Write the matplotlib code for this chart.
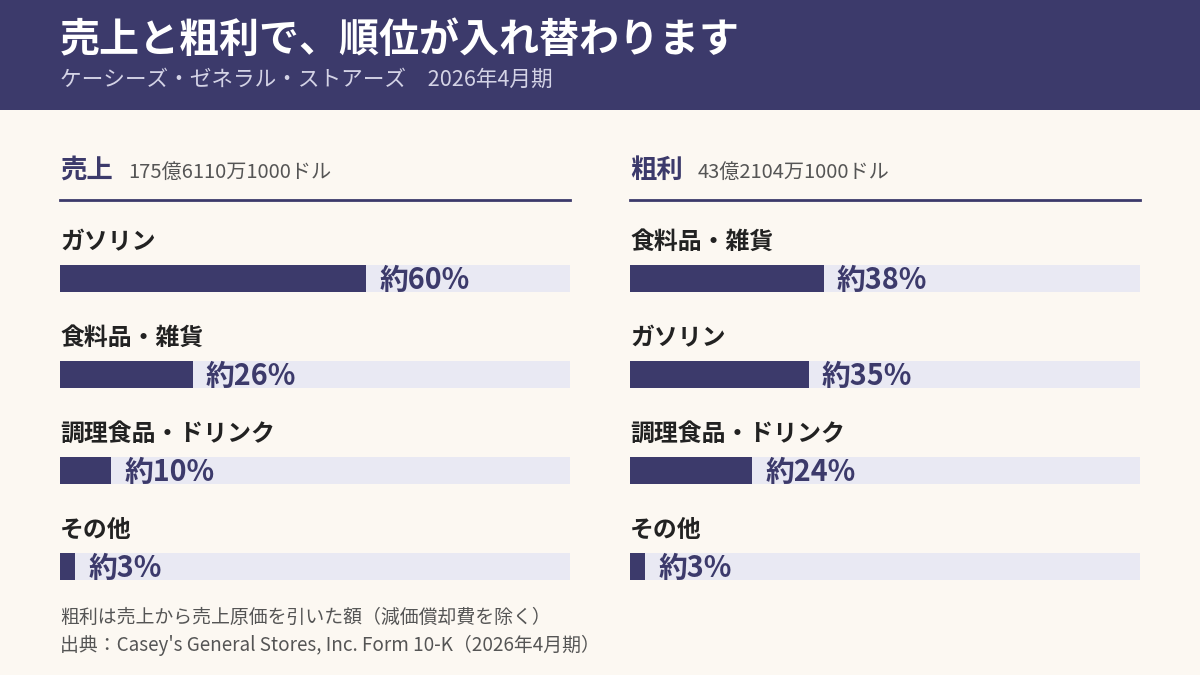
import matplotlib
matplotlib.use("Agg")
import matplotlib.pyplot as plt
from matplotlib.patches import Rectangle

plt.rcParams['font.family'] = ['Noto Sans CJK JP', 'DejaVu Sans']

# data
title = "売上と粗利で、順位が入れ替わります"
subtitle = "ケーシーズ・ゼネラル・ストアーズ　2026年4月期"
sales_cats = ["ガソリン", "食料品・雑貨", "調理食品・ドリンク", "その他"]
sales_vals = [60, 26, 10, 3]
gross_cats = ["食料品・雑貨", "ガソリン", "調理食品・ドリンク", "その他"]
gross_vals = [38, 35, 24, 3]
panel_titles = ["売上", "粗利"]
panel_totals = ["175億6110万1000ドル", "43億2104万1000ドル"]
notes = ["粗利は売上から売上原価を引いた額（減価償却費を除く）",
         "出典：Casey's General Stores, Inc. Form 10-K（2026年4月期）"]

NAVY = "#3c3a6b"
TRACK = "#e9e9f3"
BG = "#fcf8f2"
W, H = 1200, 675

fig = plt.figure(figsize=(12, 6.75), dpi=100, facecolor=BG)

def fx(px):
    return px / W

def fy(py):
    return 1 - py / H

# header band
fig.patches.append(Rectangle((0, fy(110)), 1, 110 / H, transform=fig.transFigure,
                             facecolor=NAVY, edgecolor="none", zorder=0))
fig.text(fx(60), fy(40), title, color="white", fontsize=28.8, fontweight="bold", va="center")
fig.text(fx(60), fy(80), subtitle, color="#d4d3e6", fontsize=15.6, va="center")

panels = [(60, sales_cats, sales_vals), (630, gross_cats, gross_vals)]
for k, (x0, cats, vals) in enumerate(panels):
    fig.text(fx(x0), fy(170), panel_titles[k], color=NAVY, fontsize=19,
             fontweight="bold", va="center")
    fig.text(fx(x0 + 68), fy(172), panel_totals[k], color="#555555", fontsize=14.5,
             va="center")
    fig.add_artist(plt.Line2D([fx(x0), fx(x0 + 510)], [fy(200), fy(200)],
                              transform=fig.transFigure, color=NAVY, lw=2))

    top, bottom = 230.5, 614.5
    ax = fig.add_axes([fx(x0), fy(bottom), 510 / W, (bottom - top) / H])
    ax.set_facecolor("none")
    ys = list(range(len(cats)))
    ax.barh(ys, [100] * len(cats), height=0.28, color=TRACK, left=0)
    ax.barh(ys, vals, height=0.28, color=NAVY)
    for i, (c, v) in enumerate(zip(cats, vals)):
        ax.text(0, i - 0.38, c, color="#222222", fontsize=17.2, fontweight="bold",
                va="center", ha="left")
        ax.annotate(f"約{v}%", xy=(v, i), xytext=(9.5, -1), textcoords="offset points",
                    color=NAVY, fontsize=20.7, fontweight="bold", va="center", ha="left")
    ax.set_xlim(0, 100)
    ax.set_ylim(3.5, -0.5)
    ax.axis("off")

fig.text(fx(60), fy(617), notes[0], color="#555555", fontsize=13.6, va="center")
fig.text(fx(60), fy(645), notes[1], color="#555555", fontsize=13.6, va="center")

fig.savefig("out.png", dpi=100, facecolor=BG)
